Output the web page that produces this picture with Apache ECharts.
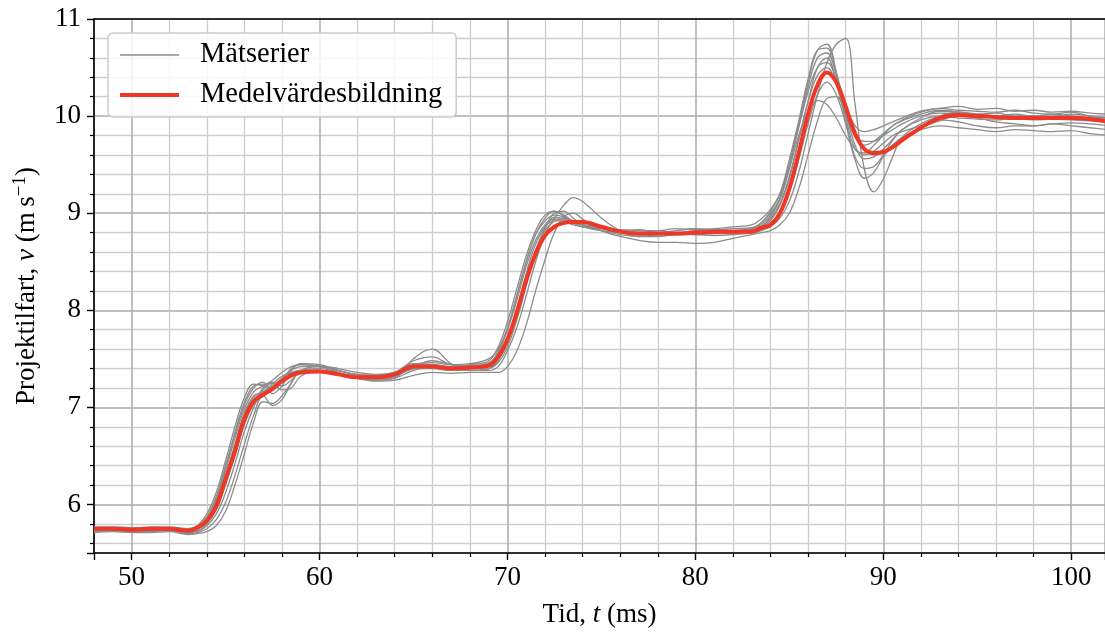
<!DOCTYPE html>
<html>
<head>
<meta charset="utf-8">
<script src="https://cdn.jsdelivr.net/npm/echarts@6/dist/echarts.min.js"></script>
<style>
  html, body { margin: 0; padding: 0; background: #fff; }
  #chart { width: 1105px; height: 633px; }
</style>
</head>
<body>
<div id="chart"></div>
<script>
// tid (ms), tätare i stegen
const tid = [
  48, 49, 50, 51, 52, 53,
  53.5, 54, 54.5, 55, 55.5, 56, 56.5, 57, 57.5, 58, 58.5, 59,
  60, 61, 62, 63, 64, 65, 66, 67, 68, 69,
  69.5, 70, 70.5, 71, 71.5, 72, 72.5, 73, 73.5, 74,
  75, 76, 77, 78, 79, 80, 81, 82, 83,
  83.5, 84, 84.5, 85, 85.5, 86, 86.5, 87, 87.5, 88, 88.5, 89, 89.5, 90, 90.5, 91,
  92, 93, 94, 95, 96, 97, 98, 99, 100, 101, 102
];

// mätserier, v (m/s)
const g1 = [
  5.76, 5.76, 5.75, 5.77, 5.76, 5.74,
  5.78, 5.9, 6.12, 6.45, 6.8, 7.1, 7.24, 7.22, 7.2, 7.3, 7.38, 7.42,
  7.42, 7.38, 7.33, 7.32, 7.35, 7.45, 7.44, 7.42, 7.44, 7.48,
  7.62, 7.88, 8.22, 8.56, 8.82, 8.98, 9.02, 8.97, 8.92, 8.9,
  8.86, 8.82, 8.8, 8.82, 8.8, 8.82, 8.83, 8.82, 8.84,
  8.9, 9.02, 9.2, 9.55, 9.95, 10.38, 10.68, 10.7, 10.45, 10.05, 9.7, 9.56, 9.58, 9.66, 9.76, 9.86,
  9.98, 10.05, 10.04, 10.02, 10.03, 10.0, 10.0, 10.02, 10.0, 9.98, 9.96
];
const g2 = [
  5.74, 5.75, 5.74, 5.75, 5.76, 5.73,
  5.77, 5.87, 6.08, 6.4, 6.72, 7.02, 7.2, 7.26, 7.14, 7.22, 7.38, 7.45,
  7.44, 7.38, 7.34, 7.33, 7.36, 7.42, 7.48, 7.44, 7.42, 7.45,
  7.58, 7.82, 8.15, 8.5, 8.78, 8.92, 8.98, 8.96, 8.9, 8.86,
  8.84, 8.82, 8.83, 8.8, 8.82, 8.84, 8.83, 8.84, 8.85,
  8.9, 9.0, 9.15, 9.48, 9.9, 10.3, 10.6, 10.65, 10.42, 10.05, 9.78, 9.7, 9.74, 9.82, 9.9, 9.96,
  10.04, 10.08, 10.06, 10.05, 10.04, 10.06, 10.03, 10.02, 10.04, 10.0, 9.98
];
const g3 = [
  5.75, 5.74, 5.73, 5.74, 5.73, 5.72,
  5.75, 5.82, 5.98, 6.28, 6.6, 6.92, 7.1, 7.15, 7.22, 7.3, 7.35, 7.38,
  7.38, 7.35, 7.32, 7.3, 7.32, 7.4, 7.42, 7.4, 7.4, 7.42,
  7.5, 7.7, 8.0, 8.35, 8.62, 8.82, 8.92, 8.95, 8.92, 8.88,
  8.85, 8.8, 8.78, 8.78, 8.78, 8.8, 8.8, 8.8, 8.8,
  8.84, 8.92, 9.08, 9.35, 9.75, 10.15, 10.5, 10.6, 10.35, 9.95, 9.58, 9.46, 9.48, 9.6, 9.75, 9.86,
  9.96, 10.0, 9.98, 9.97, 9.96, 9.98, 9.97, 9.99, 9.98, 9.96, 9.94
];
const g4 = [
  5.72, 5.73, 5.72, 5.72, 5.73, 5.7,
  5.71, 5.75, 5.84, 6.02, 6.3, 6.62, 6.92, 7.12, 7.02, 7.08, 7.25, 7.38,
  7.42, 7.36, 7.3, 7.28, 7.3, 7.5, 7.6, 7.45, 7.38, 7.38,
  7.42, 7.58, 7.82, 8.15, 8.5, 8.78, 8.95, 9.08, 9.16, 9.12,
  8.95, 8.82, 8.76, 8.78, 8.8, 8.78, 8.79, 8.8, 8.8,
  8.82, 8.86, 8.95, 9.12, 9.42, 9.82, 10.22, 10.55, 10.74, 10.8, 10.12, 9.45, 9.22, 9.35, 9.58, 9.78,
  9.92, 10.0, 10.04, 10.02, 10.0, 9.98, 9.96, 9.97, 9.96, 9.95, 9.94
];
const g5 = [
  5.71, 5.72, 5.71, 5.71, 5.72, 5.69,
  5.7, 5.72, 5.78, 5.93, 6.2, 6.52, 6.85, 7.06, 7.04, 7.12, 7.25, 7.38,
  7.4, 7.36, 7.3, 7.27, 7.28, 7.33, 7.36, 7.35, 7.36, 7.36,
  7.36, 7.42, 7.58, 7.85, 8.2, 8.52, 8.8, 8.96, 9.0, 8.94,
  8.82, 8.76, 8.72, 8.7, 8.7, 8.69, 8.7, 8.74, 8.78,
  8.8, 8.82, 8.88, 9.0, 9.25, 9.6, 9.95, 10.18, 10.2, 10.02, 9.8, 9.65, 9.6, 9.62, 9.7, 9.78,
  9.88, 9.95, 10.0, 9.98, 9.94, 9.92, 9.9, 9.92, 9.9, 9.88, 9.86
];
const g6 = [
  5.77, 5.77, 5.76, 5.76, 5.77, 5.75,
  5.78, 5.86, 6.04, 6.35, 6.68, 6.98, 7.16, 7.22, 7.28, 7.36, 7.42, 7.44,
  7.43, 7.4, 7.36, 7.34, 7.36, 7.44, 7.46, 7.44, 7.45, 7.5,
  7.6, 7.8, 8.1, 8.45, 8.72, 8.88, 8.94, 8.92, 8.88, 8.86,
  8.84, 8.83, 8.82, 8.82, 8.84, 8.83, 8.84, 8.86, 8.88,
  8.94, 9.04, 9.2, 9.5, 9.88, 10.25, 10.5, 10.55, 10.38, 10.1, 9.9, 9.84, 9.86, 9.9, 9.94, 9.98,
  10.05, 10.08, 10.1, 10.07, 10.08, 10.05, 10.06, 10.04, 10.05, 10.03, 10.02
];
const g7 = [
  5.73, 5.73, 5.72, 5.73, 5.74, 5.71,
  5.72, 5.78, 5.9, 6.12, 6.42, 6.75, 7.0, 7.18, 7.25, 7.18, 7.2, 7.32,
  7.38, 7.34, 7.3, 7.28, 7.3, 7.38, 7.42, 7.4, 7.38, 7.4,
  7.46, 7.62, 7.9, 8.25, 8.6, 8.85, 9.0, 9.02, 8.95, 8.88,
  8.82, 8.78, 8.76, 8.76, 8.78, 8.78, 8.77, 8.78, 8.8,
  8.83, 8.88, 9.0, 9.22, 9.55, 9.92, 10.22, 10.35, 10.22, 9.92, 9.55, 9.36, 9.42, 9.58, 9.7, 9.78,
  9.86, 9.9, 9.88, 9.86, 9.84, 9.86, 9.85, 9.84, 9.85, 9.82, 9.8
];
const g8 = [
  5.76, 5.75, 5.75, 5.76, 5.75, 5.73,
  5.76, 5.85, 6.05, 6.38, 6.74, 7.05, 7.22, 7.24, 7.18, 7.28, 7.4, 7.44,
  7.42, 7.38, 7.34, 7.33, 7.36, 7.48, 7.52, 7.44, 7.43, 7.46,
  7.56, 7.8, 8.15, 8.5, 8.78, 8.95, 9.02, 8.98, 8.92, 8.88,
  8.84, 8.8, 8.8, 8.8, 8.8, 8.81, 8.82, 8.82, 8.84,
  8.88, 8.98, 9.16, 9.5, 9.92, 10.35, 10.68, 10.74, 10.45, 10.0, 9.66, 9.62, 9.7, 9.8, 9.9, 9.95,
  10.02, 10.06, 10.04, 10.0, 10.0, 10.02, 10.0, 10.0, 10.02, 10.0, 9.98
];
const g9 = [
  5.74, 5.74, 5.73, 5.74, 5.75, 5.72,
  5.73, 5.8, 5.94, 6.2, 6.5, 6.82, 7.04, 7.2, 7.26, 7.22, 7.28, 7.36,
  7.38, 7.35, 7.3, 7.29, 7.32, 7.4, 7.4, 7.38, 7.38, 7.4,
  7.48, 7.66, 7.95, 8.3, 8.62, 8.84, 8.96, 8.94, 8.9, 8.86,
  8.82, 8.8, 8.78, 8.78, 8.79, 8.8, 8.8, 8.8, 8.82,
  8.86, 8.96, 9.14, 9.45, 9.8, 10.05, 10.16, 10.12, 9.98, 9.8, 9.66, 9.6, 9.64, 9.72, 9.8, 9.84,
  9.9, 9.96, 9.94, 9.9, 9.88, 9.9, 9.9, 9.92, 9.93, 9.92, 9.9
];
const g10 = [
  5.75, 5.76, 5.75, 5.75, 5.74, 5.73,
  5.75, 5.82, 6.0, 6.3, 6.62, 6.94, 7.12, 7.16, 7.24, 7.32, 7.36, 7.38,
  7.38, 7.35, 7.3, 7.31, 7.34, 7.43, 7.44, 7.42, 7.42, 7.44,
  7.52, 7.72, 8.02, 8.38, 8.68, 8.86, 8.92, 8.92, 8.9, 8.88,
  8.86, 8.82, 8.8, 8.8, 8.8, 8.8, 8.81, 8.82, 8.83,
  8.86, 8.94, 9.1, 9.38, 9.76, 10.15, 10.42, 10.5, 10.32, 10.0, 9.8, 9.74, 9.74, 9.8, 9.86, 9.92,
  10.0, 10.03, 10.02, 10.0, 10.0, 10.0, 10.0, 9.98, 10.0, 9.98, 9.97
];
const matserier = [g1, g2, g3, g4, g5, g6, g7, g8, g9, g10];

// medelvärde
const medel = [
  5.75, 5.75, 5.74, 5.75, 5.75, 5.73,
  5.76, 5.83, 5.98, 6.26, 6.55, 6.88, 7.06, 7.13, 7.19, 7.27, 7.33, 7.36,
  7.37, 7.34, 7.31, 7.31, 7.34, 7.42, 7.42, 7.4, 7.41, 7.43,
  7.52, 7.7, 7.98, 8.31, 8.58, 8.77, 8.86, 8.9, 8.91, 8.91,
  8.86, 8.81, 8.79, 8.79, 8.79, 8.8, 8.81, 8.81, 8.81,
  8.85, 8.88, 9.0, 9.25, 9.62, 10.02, 10.32, 10.45, 10.35, 10.1, 9.82, 9.66, 9.62, 9.63, 9.68, 9.75,
  9.88, 9.98, 10.01, 10.0, 9.99, 9.98, 9.98, 9.98, 9.98, 9.97, 9.94
];

const FONT = '"Liberation Serif", "DejaVu Serif", serif';
const GRA = '#8c8c8c';
const ROD = '#f03624';
const pairs = arr => tid.map((t, i) => [t, arr[i]]);

const chart = echarts.init(document.getElementById('chart'), null, { renderer: 'canvas' });

const series = matserier.map(s => ({
  name: 'Mätserier', type: 'line', data: pairs(s),
  smooth: 0.4, symbol: 'none', silent: true,
  lineStyle: { color: GRA, width: 1.3 },
  itemStyle: { color: GRA },
  z: 2,
}));
series.push({
  name: 'Medelvärdesbildning', type: 'line', data: pairs(medel),
  smooth: 0.4, symbol: 'none', silent: true,
  lineStyle: { color: ROD, width: 4 },
  itemStyle: { color: ROD },
  z: 3,
});

chart.setOption({
  animation: false,
  textStyle: { fontFamily: FONT },
  grid: { left: 94, right: 0, top: 19, bottom: 80 },
  legend: {
    data: [
      { name: 'Mätserier', lineStyle: { color: GRA, width: 1.5 } },
      { name: 'Medelvärdesbildning', lineStyle: { color: ROD, width: 4 } },
    ],
    orient: 'vertical', left: 108, top: 33,
    itemWidth: 59, itemHeight: 14, itemGap: 8,
    itemStyle: { opacity: 0 },
    padding: [6, 14, 6, 10],
    backgroundColor: 'rgba(255,255,255,0.85)',
    borderColor: '#cccccc', borderWidth: 1.5, borderRadius: 5,
    textStyle: { fontFamily: FONT, fontSize: 28.5, color: '#000', lineHeight: 32, padding: [0, 0, 0, 16] },
  },
  xAxis: [{
    type: 'value', min: 48, max: 101.8, splitNumber: 5,
    name: 'Tid, {i|t} (ms)', nameLocation: 'middle', nameGap: 48,
    nameTextStyle: {
      fontFamily: FONT, fontSize: 27, color: '#000',
      rich: { i: { fontFamily: FONT, fontSize: 27, fontStyle: 'italic', color: '#000' } },
    },
    axisLine: { onZero: false, lineStyle: { color: '#000', width: 1.6 } },
    axisTick: { inside: false, length: 7, lineStyle: { color: '#000', width: 1.4 } },
    minorTick: { show: true, splitNumber: 5, length: 4, lineStyle: { color: '#000', width: 1.2 } },
    axisLabel: { showMinLabel: false, showMaxLabel: false, margin: 11, fontFamily: FONT, fontSize: 27, color: '#000' },
    splitLine: { show: true, lineStyle: { color: '#ababab', width: 1.5 } },
    minorSplitLine: { show: true, lineStyle: { color: '#cdcdcd', width: 1.3 } },
  }, {
    type: 'value', position: 'top', min: 48, max: 101.8,
    axisLine: { show: true, onZero: false, lineStyle: { color: '#000', width: 1.6 } },
    axisTick: { show: false }, axisLabel: { show: false }, splitLine: { show: false },
  }],
  yAxis: {
    type: 'value', min: 5.5, max: 11, splitNumber: 5,
    name: 'Projektilfart, {i|v} (m\u2009s{sup|\u22121})', nameLocation: 'middle', nameGap: 52, nameRotate: 90,
    nameTextStyle: {
      fontFamily: FONT, fontSize: 27, color: '#000',
      rich: {
        i: { fontFamily: FONT, fontSize: 27, fontStyle: 'italic', color: '#000' },
        sup: { fontFamily: FONT, fontSize: 19, color: '#000', verticalAlign: 'top', padding: [0, 0, 12, 0] },
      },
    },
    axisLine: { show: true, onZero: false, lineStyle: { color: '#000', width: 1.6 } },
    axisTick: { show: true, inside: false, length: 7, lineStyle: { color: '#000', width: 1.4 } },
    minorTick: { show: true, splitNumber: 5, length: 4, lineStyle: { color: '#000', width: 1.2 } },
    axisLabel: { showMinLabel: false, margin: 13, fontFamily: FONT, fontSize: 27, color: '#000' },
    splitLine: { show: true, lineStyle: { color: '#ababab', width: 1.5 } },
    minorSplitLine: { show: true, lineStyle: { color: '#cdcdcd', width: 1.3 } },
  },
  series,
});
</script>
</body>
</html>
